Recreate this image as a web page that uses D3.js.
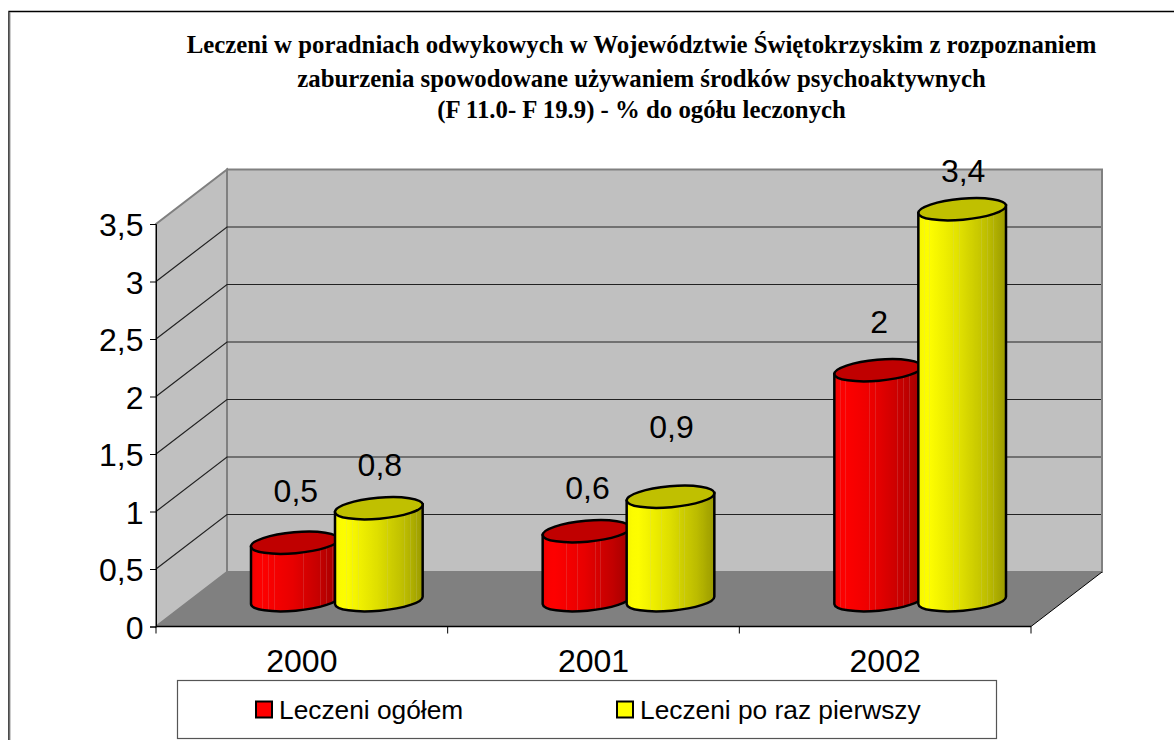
<!DOCTYPE html>
<html>
<head>
<meta charset="utf-8">
<script src="https://cdnjs.cloudflare.com/ajax/libs/d3/7.8.5/d3.min.js"></script>
<style>
  html, body { margin: 0; padding: 0; background: #fff; }
  svg { display: block; }
  text { font-family: "Liberation Sans", Arial, sans-serif; fill: #000; }
  .title { font-family: "Liberation Serif", "Times New Roman", serif; font-weight: bold; font-size: 24.8px; }
</style>
</head>
<body>
<svg id="graph" width="1174" height="740"></svg>
<script>
var titleLines = [
  "Leczeni w poradniach odwykowych w Województwie Świętokrzyskim z rozpoznaniem",
  "zaburzenia spowodowane używaniem środków psychoaktywnych",
  "(F 11.0- F 19.9) - % do ogółu leczonych"
];
var years = ["2000", "2001", "2002"];
var seriesNames = ["Leczeni ogółem", "Leczeni po raz pierwszy"];
var ogolem = [0.5, 0.6, 2];
var pierwszy = [0.8, 0.9, 3.4];
var yTicks = [0, 0.5, 1, 1.5, 2, 2.5, 3, 3.5];

// hand placed data labels, excel did not put them at a fixed distance
var labelNudge = [[-41, -32, -37], [-32, -59, -27]];

var svg = d3.select("#graph");
var comma = function (v) { return String(v).replace(".", ","); };

// front edge of the floor, the walls sit behind it by depthX / depthY
var x = d3.scaleBand().domain(years).range([156, 1031]);
var y = d3.scaleLinear().domain([0, 3.5]).range([626.5, 224]);
var depthX = 71, depthY = -54.5;
var x0 = x.range()[0], x1 = x.range()[1], y0 = y(0), yTop = y(3.5);

// outer frame, only top and left show in the picture
svg.append("path").attr("d", "M1174,11.5H9V740").attr("fill", "none").attr("stroke", "#000").attr("stroke-width", 1.4);
svg.append("path").attr("d", "M10,12V740").attr("stroke", "#999").attr("stroke-width", 1);

// title
svg.selectAll(".title").data(titleLines).enter().append("text")
  .attr("class", "title")
  .attr("x", 641.5)
  .attr("y", function (d, i) { return [53, 87, 118][i]; })
  .attr("text-anchor", "middle")
  .text(function (d) { return d; });

function poly(points) { return "M" + points.join("L") + "Z"; }

// back wall and side wall
svg.append("path")
  .attr("d", poly([[x0 + depthX, y0 + depthY], [x1 + depthX, y0 + depthY], [x1 + depthX, yTop + depthY], [x0 + depthX, yTop + depthY]]))
  .attr("fill", "#c0c0c0").attr("stroke", "#808080").attr("stroke-width", 2);
svg.append("path")
  .attr("d", poly([[x0, y0], [x0 + depthX, y0 + depthY], [x0 + depthX, yTop + depthY], [x0, yTop]]))
  .attr("fill", "#c0c0c0").attr("stroke", "#808080").attr("stroke-width", 2);

// floor
svg.append("path")
  .attr("d", poly([[x0, y0], [x1, y0], [x1 + depthX, y0 + depthY], [x0 + depthX, y0 + depthY]]))
  .attr("fill", "#808080");

// grid lines go along the side wall and the back wall
var grid = svg.append("g").attr("fill", "none").attr("stroke", "#222").attr("stroke-width", 1.2);
yTicks.slice(1, -1).forEach(function (t) {
  grid.append("path").attr("d", "M" + x0 + "," + y(t) + "L" + (x0 + depthX) + "," + (y(t) + depthY) + "L" + (x1 + depthX - 1) + "," + (y(t) + depthY));
});

// right floor edge
svg.append("path").attr("d", "M" + x1 + "," + y0 + "L" + (x1 + depthX) + "," + (y0 + depthY))
  .attr("stroke", "#000").attr("stroke-width", 1);

// axes
var yAxis = d3.axisLeft(y).tickValues(yTicks).tickFormat(comma).tickSize(6).tickPadding(6.5);
var gy = svg.append("g").attr("transform", "translate(" + x0 + ",0)").call(yAxis);
gy.selectAll("text").style("font-size", "32px").attr("dy", "0.36em");
gy.selectAll("path,line").attr("stroke", "#000");

var gx = svg.append("g").attr("transform", "translate(0," + y0 + ")")
  .call(d3.axisBottom(x).tickSize(0).tickPadding(22));
gx.selectAll("text").style("font-size", "32px").attr("dy", "0.72em");
gx.select("path").attr("d", "M" + x0 + ",0H" + x1).attr("stroke", "#000").attr("stroke-width", 1.5);
gx.selectAll(".sep").data(d3.range(4)).enter().append("line").attr("class", "sep")
  .attr("x1", function (d) { return x0 + d * x.bandwidth(); })
  .attr("x2", function (d) { return x0 + d * x.bandwidth(); })
  .attr("y1", 0).attr("y2", 7).attr("stroke", "#000");

// cylinder shading, the thin light slivers are the facet seams of the excel cylinder
var defs = svg.append("defs");
var seams = [0.07, 0.13, 0.2, 0.27, 0.4, 0.47, 0.6, 0.66, 0.72, 0.79, 0.86, 0.93];
function shade(id, base, seamColor) {
  var g = defs.append("linearGradient").attr("id", id);
  var color = d3.scaleLinear().domain([0, 0.1, 0.45, 0.8, 1]).range(base);
  var stops = [[0, color(0)]];
  seams.forEach(function (s) {
    var c = color(s), light = d3.interpolateRgb(c, seamColor)(0.2);
    stops.push([s - 0.003, c], [s - 0.003, light], [s + 0.003, light], [s + 0.003, c]);
  });
  stops.push([1, color(1)]);
  stops.forEach(function (s) {
    g.append("stop").attr("offset", s[0]).attr("stop-color", s[1]);
  });
}
shade("bodyRed", ["#f00000", "#ff0000", "#ea0000", "#c20000", "#a00000"], "#d0a0a0");
shade("bodyYellow", ["#f4f400", "#ffff00", "#e2e200", "#bcbc00", "#9a9a00"], "#c8c8a0");

var rx = 44, ry = 10.5, tilt = -5;
var tiltRad = tilt * Math.PI / 180;
var halfX = rx * Math.cos(tiltRad), halfY = rx * Math.sin(tiltRad);
var seriesX = [-41.5, 42.5];
var bodyFill = ["url(#bodyRed)", "url(#bodyYellow)"];
var topFill = ["#c00000", "#c0c000"];

function cylinder(cx, yBase, yHead, s) {
  var body = "M" + (cx - halfX) + "," + (yHead - halfY)
    + "L" + (cx - halfX) + "," + (yBase - halfY)
    + "A" + rx + "," + ry + "," + tilt + ",0,0," + (cx + halfX) + "," + (yBase + halfY)
    + "L" + (cx + halfX) + "," + (yHead + halfY) + "Z";
  var g = svg.append("g").attr("stroke", "#000").attr("stroke-width", 2.5);
  g.append("path").attr("d", body).attr("fill", bodyFill[s]);
  g.append("ellipse").attr("cx", cx).attr("cy", yHead).attr("rx", rx).attr("ry", ry)
    .attr("transform", "rotate(" + tilt + "," + cx + "," + yHead + ")")
    .attr("fill", topFill[s]);
}

[ogolem, pierwszy].forEach(function (vals, s) {
  vals.forEach(function (v, i) {
    var cx = x(years[i]) + x.bandwidth() / 2 + depthX / 2 + seriesX[s] - 1;
    var yHead = y(v) + depthY / 2 + 1;
    cylinder(cx, y(0) + depthY / 2 + 1, yHead, s);
    svg.append("text")
      .attr("x", cx + 1)
      .attr("y", yHead + labelNudge[s][i])
      .attr("text-anchor", "middle")
      .style("font-size", "32px")
      .text(comma(v));
  });
});

// legend
var legend = svg.append("g");
legend.append("rect").attr("x", 177.5).attr("y", 680.5).attr("width", 819).attr("height", 58)
  .attr("fill", "#fff").attr("stroke", "#555").attr("stroke-width", 1.2);
var legendX = [256, 617];
seriesNames.forEach(function (name, i) {
  legend.append("rect").attr("x", legendX[i]).attr("y", 701.5).attr("width", 16).attr("height", 16)
    .attr("fill", ["#ff0000", "#ffff00"][i]).attr("stroke", "#000").attr("stroke-width", 2);
  legend.append("text").attr("x", legendX[i] + 23).attr("y", 719)
    .style("font-size", "26.3px").text(name);
});
</script>
</body>
</html>
